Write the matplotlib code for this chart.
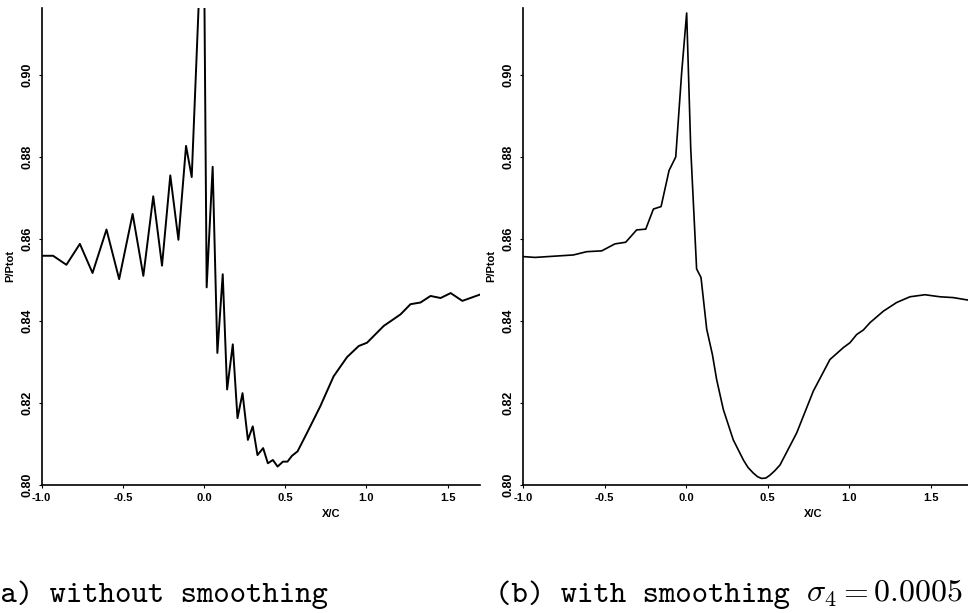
"""Pressure ratio along the centre line, without and with smoothing."""
import os
import matplotlib
matplotlib.use('Agg')
import matplotlib.pyplot as plt
from matplotlib.font_manager import FontProperties

# ----------------------------------------------------------------------
# Data
# ----------------------------------------------------------------------
x_raw = [-1.000, -0.930, -0.848, -0.765, -0.687, -0.601, -0.523, -0.440,
         -0.374, -0.313, -0.259, -0.208, -0.158, -0.111, -0.076, -0.020,
         0.000, 0.016, 0.043, 0.053, 0.082, 0.115, 0.142, 0.177, 0.206,
         0.237, 0.270, 0.300, 0.329, 0.364, 0.393, 0.424, 0.453, 0.486,
         0.514, 0.541, 0.576, 0.634, 0.716, 0.798, 0.881, 0.953, 1.004,
         1.107, 1.210, 1.272, 1.333, 1.395, 1.457, 1.519, 1.591, 1.704]
p_raw = [0.8559, 0.8559, 0.8537, 0.8588, 0.8517, 0.8623, 0.8502, 0.8661,
         0.8510, 0.8704, 0.8535, 0.8755, 0.8598, 0.8827, 0.8751, 0.9300,
         0.9300, 0.8482, 0.8698, 0.8776, 0.8322, 0.8514, 0.8233, 0.8343,
         0.8163, 0.8224, 0.8110, 0.8143, 0.8073, 0.8090, 0.8053, 0.8061,
         0.8045, 0.8057, 0.8057, 0.8071, 0.8082, 0.8127, 0.8192, 0.8265,
         0.8312, 0.8339, 0.8347, 0.8388, 0.8416, 0.8441, 0.8445, 0.8461,
         0.8456, 0.8468, 0.8449, 0.8465]

x_smooth = [-1.000, -0.926, -0.691, -0.609, -0.517, -0.436, -0.370, -0.303,
            -0.247, -0.200, -0.153, -0.104, -0.063, -0.027, 0.004, 0.029,
            0.065, 0.092, 0.127, 0.162, 0.188, 0.229, 0.290, 0.352, 0.380,
            0.413, 0.440, 0.464, 0.490, 0.515, 0.545, 0.577, 0.679, 0.781,
            0.883, 0.965, 1.006, 1.047, 1.088, 1.129, 1.211, 1.292, 1.374,
            1.466, 1.558, 1.640, 1.730]
p_smooth = [0.8557, 0.8555, 0.8561, 0.8569, 0.8571, 0.8588, 0.8592, 0.8622,
            0.8624, 0.8673, 0.8679, 0.8767, 0.8800, 0.9004, 0.9151, 0.8820,
            0.8527, 0.8506, 0.8380, 0.8318, 0.8257, 0.8184, 0.8110, 0.8061,
            0.8043, 0.8029, 0.8020, 0.8016, 0.8017, 0.8024, 0.8035, 0.8049,
            0.8127, 0.8229, 0.8306, 0.8335, 0.8347, 0.8367, 0.8378, 0.8396,
            0.8424, 0.8445, 0.8459, 0.8464, 0.8459, 0.8457, 0.8451]

yticks = [0.80, 0.82, 0.84, 0.86, 0.88, 0.90]
xticks = [-1.0, -0.5, 0.0, 0.5, 1.0, 1.5]

# ----------------------------------------------------------------------
# Figure
# ----------------------------------------------------------------------
plt.rcParams['mathtext.fontset'] = 'cm'
tt = FontProperties(fname=os.path.join(matplotlib.get_data_path(),
                                       'fonts', 'ttf', 'cmtt10.ttf'), size=22.5)

fig = plt.figure(figsize=(9.68, 6.13), dpi=100)
ax1 = fig.add_axes([0.0431, 0.2088, 0.4528, 0.778])
ax2 = fig.add_axes([0.5403, 0.2088, 0.4597, 0.778])

panels = [(ax1, x_raw, p_raw, 1.70, 1.4), (ax2, x_smooth, p_smooth, 1.73, 1.2)]
for ax, xs, ps, xmax, lw in panels:
    ax.plot(xs, ps, color='black', linewidth=lw)
    ax.set_xlim(-1.0, xmax)
    ax.set_ylim(0.80, 0.9163)
    ax.set_xticks(xticks)
    ax.set_yticks(yticks)
    ax.set_xticklabels([f'{v:.1f}' for v in xticks],
                       family='Liberation Sans', weight='bold', fontsize=8)
    ax.set_yticklabels([f'{v:.2f}' for v in yticks], rotation=90, va='center',
                       family='Liberation Sans', weight='bold', fontsize=9)
    ax.tick_params(length=2, width=0.8, pad=4, color='black')
    for side in ('top', 'right'):
        ax.spines[side].set_visible(False)
    for side in ('left', 'bottom'):
        ax.spines[side].set_linewidth(1.2)
    ax.set_ylabel('P/Ptot', family='Liberation Sans', weight='bold',
                  fontsize=8)
    ax.yaxis.set_label_coords(-0.06, 0.46)
    ax.text(0.78, -0.06, 'X/C', transform=ax.get_xaxis_transform(),
            ha='center', va='center', family='Liberation Sans',
            weight='bold', fontsize=8)

# captions under the panels
fig.text(-0.017, 0.018, '(a) without smoothing', fontproperties=tt,
         va='baseline', ha='left')
fig.text(0.511, 0.018, '(b) with smoothing', fontproperties=tt,
         va='baseline', ha='left')
fig.text(0.833, 0.018, r'$\sigma_4 = 0.0005$', fontsize=23,
         va='baseline', ha='left')

fig.savefig('out.png', dpi=100)
